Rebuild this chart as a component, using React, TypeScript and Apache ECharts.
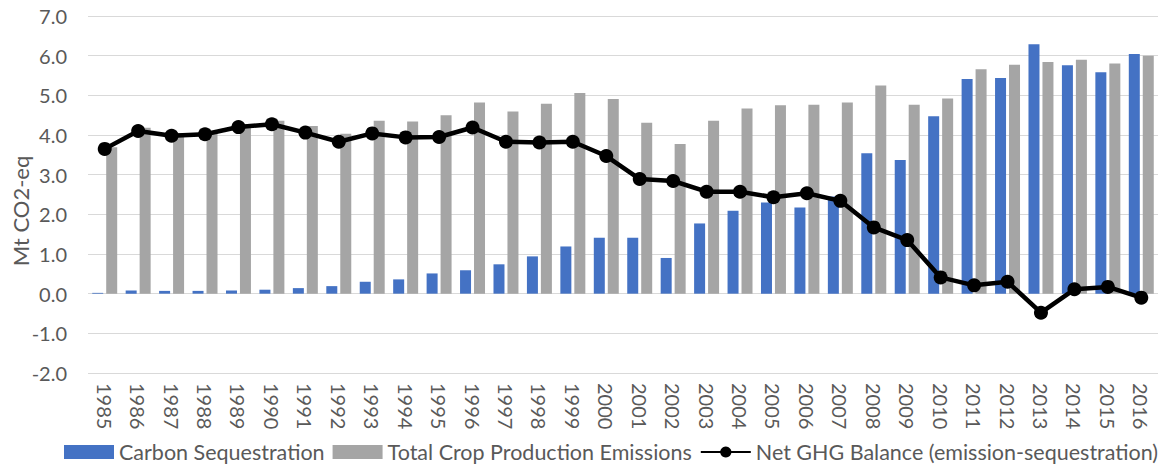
import React, { useEffect, useRef } from "react";
import * as echarts from "echarts";

// Years on the category axis
const years: string[] = [
  "1985", "1986", "1987", "1988", "1989", "1990", "1991", "1992",
  "1993", "1994", "1995", "1996", "1997", "1998", "1999", "2000",
  "2001", "2002", "2003", "2004", "2005", "2006", "2007", "2008",
  "2009", "2010", "2011", "2012", "2013", "2014", "2015", "2016",
];

// Carbon sequestration (Mt CO2-eq)
const carbonSequestration: number[] = [
  0.02, 0.08, 0.07, 0.07, 0.08, 0.10, 0.14, 0.19,
  0.30, 0.36, 0.51, 0.59, 0.74, 0.94, 1.19, 1.41,
  1.41, 0.90, 1.77, 2.09, 2.30, 2.17, 2.45, 3.54,
  3.37, 4.47, 5.41, 5.44, 6.29, 5.76, 5.58, 6.04,
];

// Total crop production emissions (Mt CO2-eq)
const cropEmissions: number[] = [
  3.69, 4.18, 4.05, 4.09, 4.28, 4.36, 4.23, 4.03,
  4.36, 4.34, 4.50, 4.82, 4.59, 4.79, 5.06, 4.91,
  4.31, 3.77, 4.36, 4.67, 4.75, 4.76, 4.82, 5.25,
  4.76, 4.92, 5.66, 5.77, 5.84, 5.90, 5.80, 6.00,
];

// Net GHG balance = emission - sequestration (Mt CO2-eq)
const netBalance: number[] = [
  3.65, 4.10, 3.98, 4.02, 4.20, 4.27, 4.06, 3.83,
  4.04, 3.94, 3.95, 4.19, 3.83, 3.81, 3.83, 3.47,
  2.89, 2.84, 2.57, 2.57, 2.43, 2.53, 2.34, 1.67,
  1.35, 0.41, 0.21, 0.30, -0.48, 0.11, 0.17, -0.10,
];

const FONT = "Lato";
const TEXT_COLOR = "#595959";

export default function App() {
  const ref = useRef<HTMLDivElement>(null);

  useEffect(() => {
    document.body.style.margin = "0";
    if (!ref.current) return;
    const chart = echarts.init(ref.current, undefined, { renderer: "svg" });
    chart.setOption({
      animation: false,
      backgroundColor: "#ffffff",
      textStyle: { fontFamily: FONT },
      grid: { left: 88, right: 14, top: 16, bottom: 93, containLabel: false },
      legend: {
        left: 64,
        top: 441,
        padding: 0,
        itemWidth: 50,
        itemHeight: 14,
        itemGap: 8,
        textStyle: { fontFamily: FONT, fontSize: 21.5, color: TEXT_COLOR, padding: [0, 0, 0, 0] },
        data: [
          { name: "Carbon Sequestration", icon: "rect" },
          { name: "Total Crop Production Emissions", icon: "rect" },
          { name: "Net GHG Balance (emission-sequestration)" },
        ],
      },
      graphic: [
        {
          type: "text",
          x: 20,
          y: 211,
          rotation: Math.PI / 2,
          style: {
            text: "Mt CO2-eq",
            fontFamily: FONT,
            fontSize: 22,
            fill: TEXT_COLOR,
            align: "center",
            verticalAlign: "middle",
          },
        },
      ],
      xAxis: {
        type: "category",
        data: years,
        boundaryGap: true,
        axisLine: { show: false, onZero: false },
        axisTick: { show: false },
        axisLabel: {
          rotate: -90,
          margin: 10,
          interval: 0,
          fontFamily: FONT,
          fontSize: 20,
          color: TEXT_COLOR,
        },
      },
      yAxis: {
        type: "value",
        min: -2,
        max: 7,
        interval: 1,
        axisLine: { show: false },
        axisTick: { show: false },
        axisLabel: {
          margin: 21,
          fontFamily: FONT,
          fontSize: 20,
          color: TEXT_COLOR,
          formatter: (v: number) => v.toFixed(1),
        },
        splitLine: { lineStyle: { color: "#d9d9d9", width: 1 } },
      },
      series: [
        {
          name: "Carbon Sequestration",
          type: "bar",
          data: carbonSequestration,
          barWidth: 11,
          barGap: "27%",
          itemStyle: { color: "#4472C4" },
        },
        {
          name: "Total Crop Production Emissions",
          type: "bar",
          data: cropEmissions,
          barWidth: 11,
          barGap: "27%",
          itemStyle: { color: "#A5A5A5" },
        },
        {
          name: "Net GHG Balance (emission-sequestration)",
          type: "line",
          data: netBalance,
          symbol: "circle",
          symbolSize: 14,
          z: 5,
          lineStyle: { color: "#000000", width: 4.5 },
          itemStyle: { color: "#000000" },
        },
      ],
    });
    return () => chart.dispose();
  }, []);

  return <div ref={ref} style={{ width: 1172, height: 466 }} />;
}
